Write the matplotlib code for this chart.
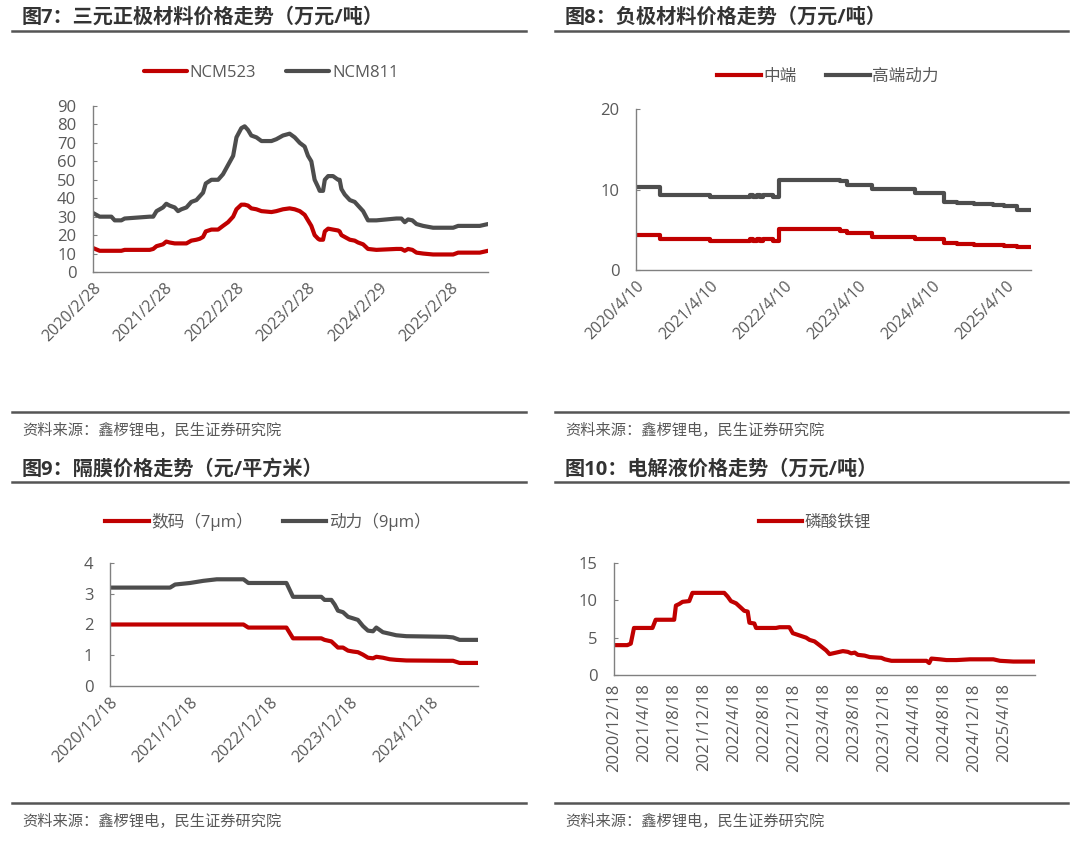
import pandas as pd
import matplotlib.pyplot as plt
from matplotlib.lines import Line2D

plt.rcParams['font.family'] = ['Open Sans', 'Noto Sans CJK SC', 'DejaVu Sans']

RED = "#C00000"
GRAY = "#4D4D4D"
TXT = "#595959"

# ---- 图7 三元正极
d7 = ["2020-02-28", "2020-04-02", "2020-06-01", "2020-06-18", "2020-07-22", "2020-08-08",
      "2020-12-14", "2021-01-01", "2021-01-18", "2021-02-20", "2021-03-09", "2021-03-26",
      "2021-04-21", "2021-05-08", "2021-05-25", "2021-06-20", "2021-07-15", "2021-08-10",
      "2021-08-27", "2021-09-13", "2021-09-27", "2021-10-26", "2021-11-29", "2021-12-24",
      "2022-01-19", "2022-02-14", "2022-03-03", "2022-03-28", "2022-04-14", "2022-05-01",
      "2022-05-18", "2022-06-13", "2022-07-09", "2022-08-29", "2022-09-23", "2022-10-27",
      "2022-11-30", "2022-12-26", "2023-01-21", "2023-02-15", "2023-03-04", "2023-03-21",
      "2023-04-07", "2023-04-25", "2023-05-03", "2023-05-20", "2023-05-29", "2023-06-15",
      "2023-07-10", "2023-08-05", "2023-08-13", "2023-08-22", "2023-09-08", "2023-10-04",
      "2023-10-29", "2023-11-15", "2023-12-11", "2024-01-05", "2024-02-17", "2024-05-29",
      "2024-06-24", "2024-07-11", "2024-07-28", "2024-08-19", "2024-09-09", "2024-10-13",
      "2024-12-03", "2025-03-16", "2025-04-10", "2025-06-09", "2025-07-30", "2025-09-10"]
ncm811 = [32, 30, 30, 28, 28, 29, 30, 30, 33, 35, 37, 36,
          35, 33, 34, 35, 38, 39, 41, 43, 48, 50, 50, 53,
          58, 63, 73, 78, 79, 77, 74, 73, 71, 71, 72, 74,
          75, 73, 70, 68, 63, 60, 50, 46, 44, 44, 50, 52,
          52, 50, 50, 45, 42, 39, 38, 36, 33, 28, 28, 29,
          29, 27, 28.5, 28, 26, 25, 24, 24, 25, 25, 25, 26]
ncm523 = [13, 11.5, 11.5, 11.5, 11.5, 12, 12, 12.5, 14, 15, 16.5, 16,
          15.5, 15.5, 15.5, 15.5, 17, 17.5, 18, 19, 22, 23, 23, 25,
          27, 30, 34, 36.5, 36.5, 36, 34.5, 34, 33, 32.5, 33, 34,
          34.5, 34, 33, 31, 28, 25, 20, 18, 17.5, 17.5, 22, 23.5,
          23, 22.5, 22, 20, 19, 17.5, 17, 16, 15, 12.5, 12, 12.5,
          12.5, 11.5, 12.5, 12, 10.5, 10, 9.5, 9.5, 10.5, 10.5, 10.5, 11.5]
t7 = ["2020/2/28", "2021/2/28", "2022/2/28", "2023/2/28", "2024/2/29", "2025/2/28"]

# ---- 图8 负极
d8 = ["2020-04-10", "2020-08-06", "2021-04-10", "2021-10-25", "2021-11-10", "2021-11-26",
      "2021-12-13", "2021-12-29", "2022-02-17", "2022-03-18", "2023-01-12", "2023-02-14",
      "2023-06-17", "2024-01-17", "2024-06-05", "2024-08-10", "2024-11-01", "2025-02-06",
      "2025-03-28", "2025-06-02", "2025-08-10"]
high = [10.3, 9.3, 9.1, 9.3, 9.1, 9.3, 9.1, 9.3, 9.1, 11.2, 11.0, 10.6,
        10.1, 9.6, 8.5, 8.3, 8.2, 8.1, 7.9, 7.4, 7.4]
mid = [4.4, 3.8, 3.6, 3.8, 3.6, 3.8, 3.6, 3.8, 3.6, 5.05, 4.8, 4.6,
       4.1, 3.85, 3.3, 3.2, 3.15, 3.1, 2.95, 2.8, 2.8]
t8 = ["2020/4/10", "2021/4/10", "2022/4/10", "2023/4/10", "2024/4/10", "2025/4/10"]

# ---- 图9 隔膜
d9 = ["2020-12-18", "2021-09-18", "2021-10-11", "2021-12-18", "2022-02-17", "2022-04-19",
      "2022-08-19", "2022-09-10", "2023-03-03", "2023-04-02", "2023-08-09", "2023-08-24",
      "2023-09-24", "2023-10-09", "2023-10-24", "2023-11-16", "2023-12-09", "2024-01-01",
      "2024-01-23", "2024-02-15", "2024-03-09", "2024-04-01", "2024-04-16", "2024-05-16",
      "2024-06-16", "2024-07-16", "2024-08-31", "2025-03-01", "2025-04-01", "2025-05-01",
      "2025-07-24"]
power9 = [3.2, 3.2, 3.3, 3.35, 3.42, 3.47, 3.47, 3.35, 3.35, 2.9, 2.9, 2.8,
          2.8, 2.65, 2.45, 2.4, 2.25, 2.2, 2.15, 1.95, 1.8, 1.78, 1.9, 1.75,
          1.7, 1.65, 1.62, 1.6, 1.58, 1.5, 1.5]
digit7 = [2.0, 2.0, 2.0, 2.0, 2.0, 2.0, 2.0, 1.9, 1.9, 1.55, 1.55, 1.5,
          1.45, 1.35, 1.25, 1.25, 1.15, 1.12, 1.1, 1.02, 0.92, 0.9, 0.95, 0.92,
          0.87, 0.85, 0.83, 0.82, 0.82, 0.75, 0.75]
t9 = ["2020/12/18", "2021/12/18", "2022/12/18", "2023/12/18", "2024/12/18"]

# ---- 图10 电解液
d10 = ["2020-12-18", "2021-02-10", "2021-02-24", "2021-03-09", "2021-05-23", "2021-06-05",
       "2021-08-19", "2021-08-26", "2021-09-08", "2021-09-22", "2021-10-19", "2021-11-01",
       "2022-03-10", "2022-03-24", "2022-04-06", "2022-04-27", "2022-05-17", "2022-05-30",
       "2022-06-13", "2022-06-20", "2022-07-10", "2022-07-17", "2022-10-06", "2022-10-20",
       "2022-11-29", "2022-12-13", "2023-01-09", "2023-02-05", "2023-02-19", "2023-03-11",
       "2023-03-31", "2023-04-27", "2023-05-11", "2023-06-07", "2023-07-04", "2023-07-24",
       "2023-08-07", "2023-08-21", "2023-09-03", "2023-09-30", "2023-10-21", "2023-12-07",
       "2023-12-21", "2024-01-17", "2024-06-07", "2024-06-18", "2024-06-27", "2024-07-31",
       "2024-08-27", "2024-10-07", "2024-11-30", "2025-03-05", "2025-04-01", "2025-05-25",
       "2025-08-21"]
lfp = [4.0, 4.0, 4.2, 6.3, 6.3, 7.4, 7.4, 9.3, 9.5, 9.8, 9.9, 11.0,
       11.0, 10.5, 9.9, 9.6, 9.0, 8.6, 8.5, 7.0, 6.9, 6.3, 6.3, 6.4,
       6.4, 5.6, 5.3, 5.0, 4.7, 4.5, 4.0, 3.3, 2.8, 3.0, 3.2, 3.1,
       2.9, 3.0, 2.7, 2.6, 2.4, 2.3, 2.1, 1.9, 1.9, 1.6, 2.2, 2.1,
       2.0, 2.0, 2.1, 2.1, 1.9, 1.8, 1.8]
t10 = ["2020/12/18", "2021/4/18", "2021/8/18", "2021/12/18", "2022/4/18", "2022/8/18",
       "2022/12/18", "2023/4/18", "2023/8/18", "2023/12/18", "2024/4/18", "2024/8/18",
       "2024/12/18", "2025/4/18"]

W, H = 1080, 843
fig = plt.figure(figsize=(W / 100, H / 100), dpi=100)


def px_axes(l, t, r, b):
    return fig.add_axes([l / W, 1 - b / H, (r - l) / W, (b - t) / H])


def header(x0, x1, y_title, y_line, y_bottom, title):
    fig.text((x0 + 10) / W, 1 - y_title / H, title, fontsize=14.5, fontweight='bold',
             color="#333333", va='center', ha='left')
    fig.add_artist(Line2D([x0 / W, x1 / W], [1 - y_line / H] * 2, color="#555555", lw=1.8))
    fig.add_artist(Line2D([x0 / W, x1 / W], [1 - y_bottom / H] * 2, color="#555555", lw=1.8))
    fig.text((x0 + 10) / W, 1 - (y_bottom + 19) / H, "资料来源：鑫椤锂电，民生证券研究院",
             fontsize=11, color=TXT, va='center', ha='left')


def style(ax, dates, ticks, yticks, ylim, rot):
    ax.set_xlim(pd.to_datetime(dates[0]), pd.to_datetime(dates[-1]))
    ax.set_ylim(*ylim)
    ax.set_yticks(yticks)
    tk = pd.to_datetime(ticks, format="%Y/%m/%d")
    ax.set_xticks(tk)
    if rot == 90:
        ax.set_xticklabels(ticks, rotation=90, ha='center', va='top', fontsize=12, color=TXT)
    else:
        ax.set_xticklabels(ticks, rotation=45, ha='right', va='top', rotation_mode='anchor',
                           fontsize=11.5, color=TXT)
    ax.tick_params(axis='y', labelsize=12, labelcolor=TXT, direction='in', length=3,
                   color="#808080", pad=12)
    ax.tick_params(axis='x', length=0, pad=6)
    for s in ['top', 'right']:
        ax.spines[s].set_visible(False)
    for s in ['left', 'bottom']:
        ax.spines[s].set_color("#808080")
        ax.spines[s].set_linewidth(1.0)
    ax.set_facecolor('none')


def legend(ax, cx, cy):
    ax.legend(loc='center', bbox_to_anchor=(cx / W, 1 - cy / H), bbox_transform=fig.transFigure,
              ncol=2, frameon=False, fontsize=12, handlelength=2.6, handletextpad=0.15,
              columnspacing=1.8, labelcolor=TXT)


# panel 7
header(12, 526, 18, 31, 412, "图7：三元正极材料价格走势（万元/吨）")
ax = px_axes(93, 106, 488, 272)
x = pd.to_datetime(d7)
ax.plot(x, ncm523, color=RED, lw=3, label="NCM523", solid_capstyle='round')
ax.plot(x, ncm811, color=GRAY, lw=3, label="NCM811", solid_capstyle='round')
style(ax, d7, t7, range(0, 91, 10), (0, 90), 45)
legend(ax, 271, 73)

# panel 8
header(555, 1068, 18, 31, 412, "图8：负极材料价格走势（万元/吨）")
ax = px_axes(636, 109, 1031, 270)
x = pd.to_datetime(d8)
ax.plot(x, mid, color=RED, lw=3, label="中端", drawstyle='steps-post')
ax.plot(x, high, color=GRAY, lw=3, label="高端动力", drawstyle='steps-post')
style(ax, d8, t8, [0, 10, 20], (0, 20), 45)
legend(ax, 828, 77)

# panel 9
header(12, 526, 470, 482, 803, "图9：隔膜价格走势（元/平方米）")
ax = px_axes(110, 563, 478, 686)
x = pd.to_datetime(d9)
ax.plot(x, digit7, color=RED, lw=3, label="数码（7μm）")
ax.plot(x, power9, color=GRAY, lw=3, label="动力（9μm）")
style(ax, d9, t9, range(0, 5), (0, 4), 45)
legend(ax, 268, 522)

# panel 10
header(555, 1068, 470, 482, 803, "图10：电解液价格走势（万元/吨）")
ax = px_axes(614, 563, 1035, 675)
x = pd.to_datetime(d10)
ax.plot(x, lfp, color=RED, lw=3, label="磷酸铁锂")
style(ax, d10, t10, [0, 5, 10, 15], (0, 15), 90)
legend(ax, 815, 523)

fig.savefig("out.png", dpi=100, facecolor='white')
